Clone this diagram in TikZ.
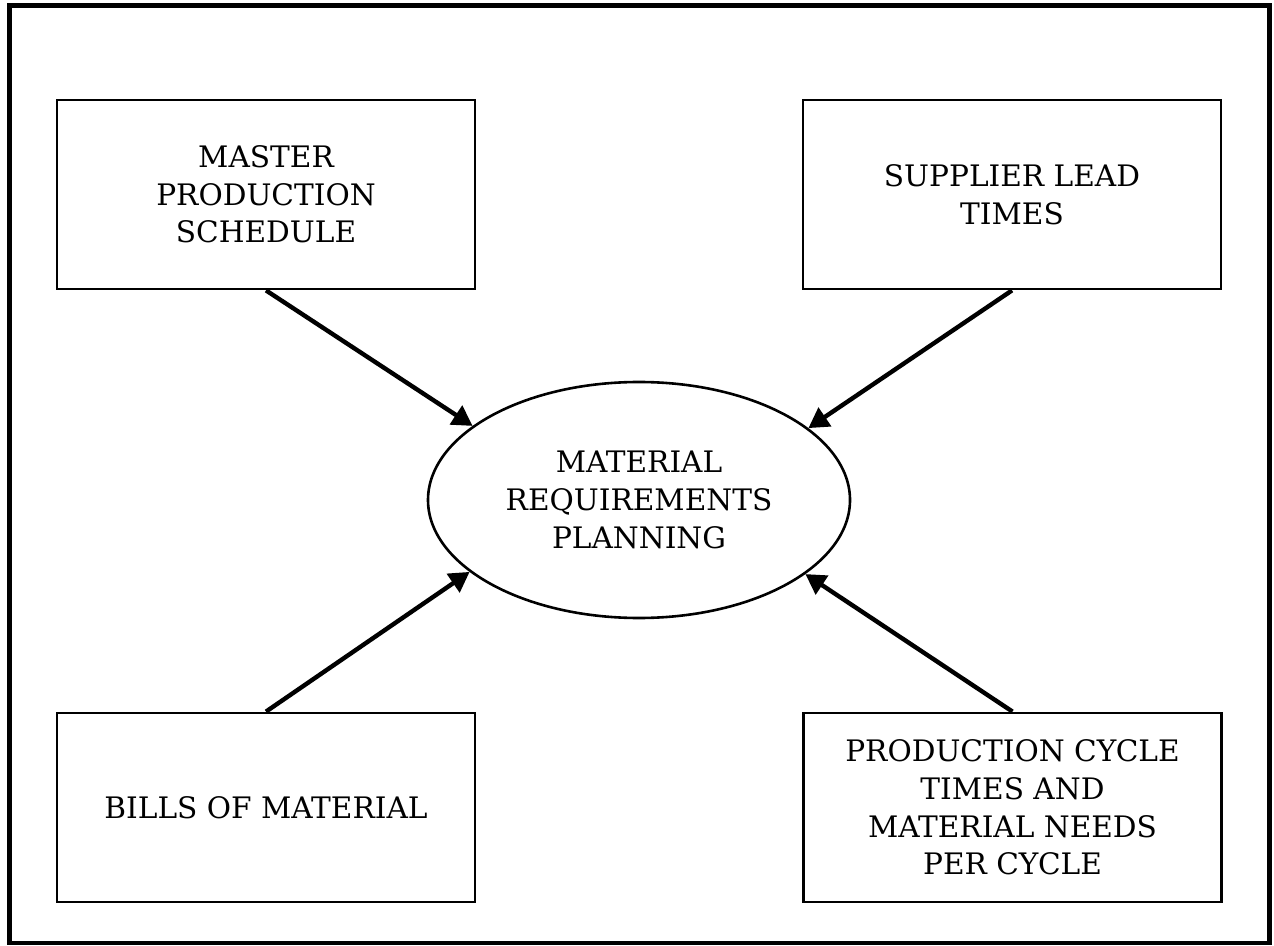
\documentclass[tikz,border=0pt]{standalone}
\usepackage{fontspec}
\setmainfont{DejaVu Serif}
\usetikzlibrary{arrows.meta, shapes.geometric}

\begin{document}
\begin{tikzpicture}[x=0.5pt, y=-0.5pt,
	inputbox/.style = {draw, line width = 1.4pt, minimum width = 209pt, minimum height = 94.5pt,
		inner sep = 0pt, align = center, font = \fontsize{14.8}{18.8}\selectfont},
	centre/.style = {draw, ellipse, line width = 1.3pt, minimum width = 211pt, minimum height = 118pt,
		inner sep = 0pt, align = center, font = \fontsize{14.8}{18.8}\selectfont},
	feed/.style = {line width = 2.2pt, -{Triangle[length = 10pt, width = 11pt]}}]

	\useasboundingbox (0, 0) rectangle (1274, 946);

	% Outer frame

	\draw [line width = 2.3pt] (9.5, 5.5) rectangle (1269.5, 943);

	% Inputs

	\node [inputbox] (mps) at (266, 194.5) {MASTER\\PRODUCTION\\SCHEDULE};
	\node [inputbox] (slt) at (1012, 194.5) {SUPPLIER LEAD\\TIMES};
	\node [inputbox] (bom) at (266, 807.5) {BILLS OF MATERIAL};
	\node [inputbox] (pct) at (1012.5, 807.5) {PRODUCTION CYCLE\\TIMES AND\\MATERIAL NEEDS\\PER CYCLE};

	% Planning

	\node [centre] (mrp) at (639, 500) {MATERIAL\\REQUIREMENTS\\PLANNING};

	% Arrows

	\begin{scope}[feed]

		\draw (mps.south) -- (mrp.156.7);
		\draw (slt.south) -- (mrp.23.4);
		\draw (bom.north) -- (mrp.203.6);
		\draw (pct.north) -- (mrp.336.5);

	\end{scope}

\end{tikzpicture}
\end{document}
